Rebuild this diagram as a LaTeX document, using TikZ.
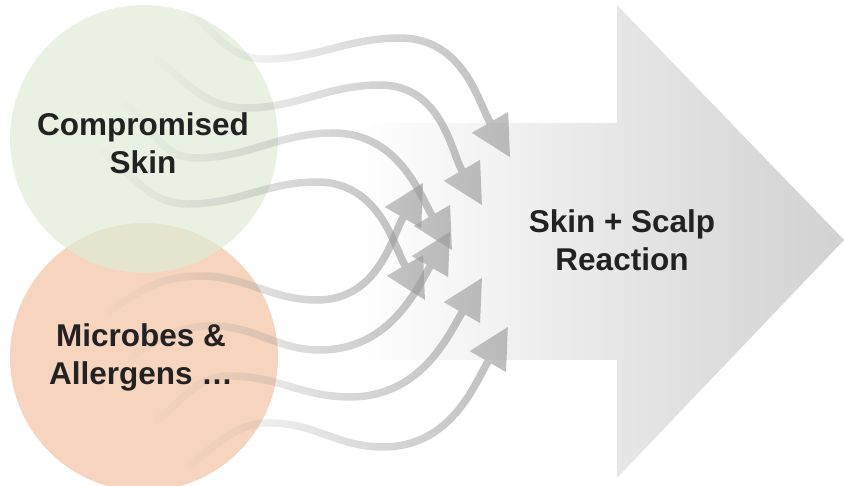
\documentclass[tikz,border=0pt]{standalone}
\usepackage{fontspec}
\setmainfont{Liberation Sans}
\usetikzlibrary{arrows.meta,fadings}
\definecolor{skingreen}{RGB}{222,235,214}
\definecolor{microbeorange}{RGB}{246,212,189}
\definecolor{darktext}{RGB}{34,34,34}
\tikzfading[name=curvefade, left color=transparent!100, middle color=transparent!35, right color=transparent!0]

\begin{document}
\begin{tikzpicture}[x=1pt,y=1pt,
    bigtext/.style={font=\bfseries\fontsize{31.5}{38}\selectfont, text=darktext, align=center},
    blob/.style={circle, minimum size=268pt, inner sep=0pt},
    flow/.style={line width=7.5pt, draw=black!40, opacity=0.65, path fading=curvefade,
        -{Triangle[length=40pt,width=42pt,line width=0pt]}}]
\useasboundingbox (0,0) rectangle (844,-486);
% reaction arrow
\shade[left color=white, right color=black!18]
    (355,-123)--(617,-123)--(617,-5)--(844,-240)--(617,-478)--(617,-360)--(355,-360)--cycle;
\node[blob, fill=microbeorange] (microbes) at (144,-357) {};
\node[blob, fill=skingreen, fill opacity=0.7] (skin) at (144,-139) {};
\coordinate (reaction) at (622,-240);
% starts and tips
\coordinate (src1) at (183,-7);
\coordinate (src2) at (153,-57);
\coordinate (src3) at (123,-103);
\coordinate (src4) at (100,-150);
\coordinate (src5) at (107,-313);
\coordinate (src6) at (127,-360);
\coordinate (src7) at (153,-423);
\coordinate (src8) at (187,-467);
\coordinate (tip1) at (510,-157);
\coordinate (tip2) at (482,-205);
\coordinate (tip3) at (452,-250);
\coordinate (tip4) at (425,-300);
\coordinate (tip5) at (423,-183);
\coordinate (tip6) at (450,-232);
\coordinate (tip7) at (482,-278);
\coordinate (tip8) at (508,-327);
\foreach \n/\ax/\ay/\bx/\by in {1/265/59/400/38,2/245/108/380/85,3/195/158/333/133,4/188/204/317/182}
    \draw[flow] (src\n) to[out=-35,in=180] (\ax,-\ay) to[out=0,in=180] (\bx,-\by) to[out=0,in=120] (tip\n);
\foreach \n/\ax/\ay/\bx/\by in {5/200/276/317/300,6/212/326/320/350,7/230/376/350/397,8/270/423/383/447}
    \draw[flow] (src\n) to[out=35,in=180] (\ax,-\ay) to[out=0,in=180] (\bx,-\by) to[out=0,in=-120] (tip\n);
\node[bigtext] (skinlabel) at (143,-143) {Compromised\\Skin};
\node[bigtext] (microbelabel) at (141,-357) {Microbes \&\\Allergens \dots};
\node[bigtext] (reactionlabel) at (reaction) {Skin + Scalp\\Reaction};
\end{tikzpicture}
\end{document}
